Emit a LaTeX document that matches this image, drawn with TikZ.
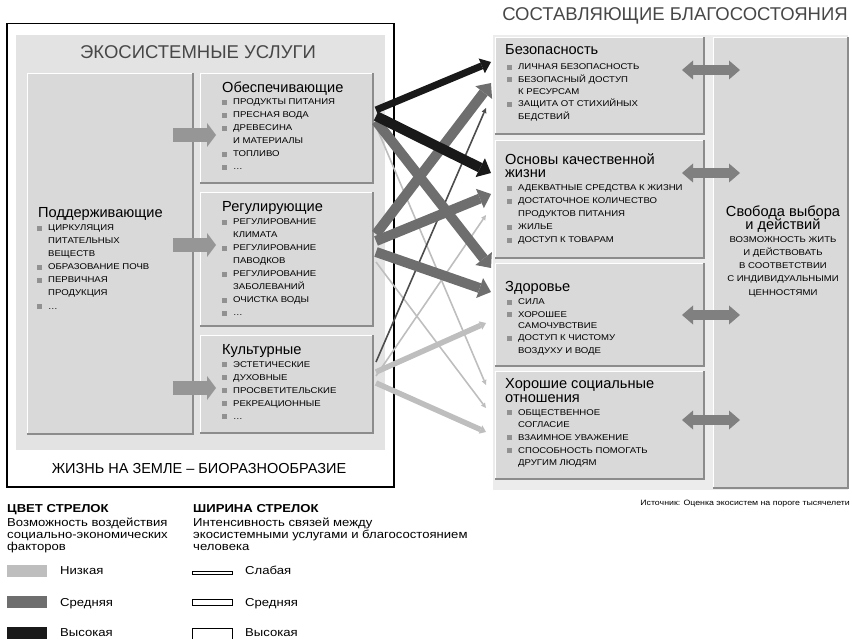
\documentclass[tikz,border=0pt]{standalone}
\usepackage{fontspec}
\setmainfont{Liberation Sans}
\newfontfamily\widesans[FakeStretch=1.14]{Liberation Sans}
\usetikzlibrary{arrows.meta}

\definecolor{panelgray}{RGB}{227,227,227}
\definecolor{rpanel}{RGB}{236,236,236}
\definecolor{boxgray}{RGB}{217,217,217}
\definecolor{edgegray}{RGB}{140,140,140}
\definecolor{bulgray}{RGB}{145,145,145}
\definecolor{arrgray}{RGB}{150,150,150}
\definecolor{dblgray}{RGB}{128,128,128}
\definecolor{lowcol}{RGB}{190,190,190}
\definecolor{midcol}{RGB}{110,110,110}
\definecolor{highcol}{RGB}{25,25,25}

\newcommand\bul{\textcolor{bulgray}{\rule{5pt}{5pt}}\hspace{6pt}}
\newcommand\cnt{\hspace{11pt}}
% one node per printed line
\newcommand\blist[5]{\foreach \lin [count=\k from 0] in {#5}
  \node[itm] (#1-\k) at (#2,#3+#4*\k) {\lin};}

\begin{document}
\begin{tikzpicture}[x=1pt, y=-1pt,
  box/.style={fill=boxgray, draw=white, line width=1pt, anchor=north west, inner sep=0},
  edge/.style={draw=edgegray, line width=1.6pt},
  hd/.style={anchor=base west, inner sep=0, font=\fontsize{14.6}{15}\selectfont},
  itm/.style={anchor=base west, inner sep=0, text=black, font=\widesans\fontsize{8.4}{9}\selectfont},
  big/.style={anchor=base, inner sep=0, text=black!72, font=\fontsize{18.5}{19}\selectfont},
  lgd/.style={anchor=base west, inner sep=0, font=\widesans\fontsize{11.5}{12}\selectfont},
  blk/.style={draw=arrgray, line width=14pt, -{Triangle[length=9pt,width=24pt,line width=0pt]}},
  dbl/.style={draw=dblgray, line width=10pt, {Triangle[length=11pt,width=19pt,line width=0pt]}-{Triangle[length=11pt,width=19pt,line width=0pt]}},
  wide/.style={line width=10pt, -{Triangle[length=12pt,width=21pt,line width=0pt]}},
  medw/.style={line width=7pt, -{Triangle[length=10pt,width=16pt,line width=0pt]}},
  lightw/.style={line width=5.5pt, -{Triangle[length=6pt,width=9pt,line width=0pt]}},
  slim/.style={line width=1.6pt, -{Triangle[length=5pt,width=5pt,line width=0pt]}}]
\useasboundingbox (0,0) rectangle (852,639);

% ecosystem services
\node[draw, line width=1.5pt, minimum width=387pt, minimum height=463pt, anchor=north west, inner sep=0] (frame) at (6,23) {};
\node[fill=panelgray, minimum width=369pt, minimum height=415pt, anchor=north west, inner sep=0] (panel) at (16,35) {};
\node[big] (es) at (198,59) {ЭКОСИСТЕМНЫЕ УСЛУГИ};

\node[box, minimum width=165pt, minimum height=360pt] (sup) at (27,73) {};
\node[box, minimum width=172pt, minimum height=109pt] (prov) at (200,73) {};
\node[box, minimum width=172pt, minimum height=133pt] (reg) at (200,192) {};
\node[box, minimum width=172pt, minimum height=97pt] (cult) at (200,335) {};
\foreach \b in {sup,prov,reg,cult}
  \draw[edge] (\b.north east) -- (\b.south east) -- (\b.south west);

\foreach \t/\y in {prov/135, reg/245, cult/388} {
  \coordinate (\t-from) at (173,\y);
  \coordinate (\t-to) at (216,\y);
  \draw[blk] (\t-from) -- (\t-to);
}

\node[hd] (sup-t) at (38,218) {Поддерживающие};
\blist{sup}{37}{231}{13}{{\bul ЦИРКУЛЯЦИЯ},{\cnt ПИТАТЕЛЬНЫХ},{\cnt ВЕЩЕСТВ},{\bul ОБРАЗОВАНИЕ ПОЧВ},{\bul ПЕРВИЧНАЯ},{\cnt ПРОДУКЦИЯ},{\bul \ldots}}
\node[hd] (prov-t) at (222,93) {Обеспечивающие};
\blist{prov}{222}{105}{13}{{\bul ПРОДУКТЫ ПИТАНИЯ},{\bul ПРЕСНАЯ ВОДА},{\bul ДРЕВЕСИНА},{\cnt И МАТЕРИАЛЫ},{\bul ТОПЛИВО},{\bul \ldots}}
\node[hd] (reg-t) at (222,212) {Регулирующие};
\blist{reg}{222}{225}{13}{{\bul РЕГУЛИРОВАНИЕ},{\cnt КЛИМАТА},{\bul РЕГУЛИРОВАНИЕ},{\cnt ПАВОДКОВ},{\bul РЕГУЛИРОВАНИЕ},{\cnt ЗАБОЛЕВАНИЙ},{\bul ОЧИСТКА ВОДЫ},{\bul \ldots}}
\node[hd] (cult-t) at (222,355) {Культурные};
\blist{cult}{222}{367}{13}{{\bul ЭСТЕТИЧЕСКИЕ},{\bul ДУХОВНЫЕ},{\bul ПРОСВЕТИТЕЛЬСКИЕ},{\bul РЕКРЕАЦИОННЫЕ},{\bul \ldots}}

\node[anchor=base, inner sep=0, font=\fontsize{14.5}{15}\selectfont] (life) at (199,473) {ЖИЗНЬ НА ЗЕМЛЕ – БИОРАЗНООБРАЗИЕ};

% well-being
\node[big] (wb) at (675,21) {СОСТАВЛЯЮЩИЕ БЛАГОСОСТОЯНИЯ};
\node[fill=rpanel, minimum width=355pt, minimum height=455pt, anchor=north west, inner sep=0] (rpanel) at (493,35) {};
\node[box, minimum width=208pt, minimum height=96pt] (sec) at (495,37) {};
\node[box, minimum width=208pt, minimum height=117pt] (basic) at (495,140) {};
\node[box, minimum width=208pt, minimum height=102pt] (hlth) at (495,263) {};
\node[box, minimum width=208pt, minimum height=107pt] (soc) at (495,371) {};
\node[box, minimum width=134pt, minimum height=450pt] (free) at (713,37) {};
\foreach \b in {sec,basic,hlth,soc,free}
  \draw[edge] (\b.north east) -- (\b.south east) -- (\b.south west);

\foreach \t/\y in {sec/70, basic/173, hlth/315, soc/420} {
  \coordinate (\t-l) at (682,\y);
  \coordinate (\t-r) at (740,\y);
  \draw[dbl] (\t-l) -- (\t-r);
}

\node[hd] (sec-t) at (505,55) {Безопасность};
\blist{sec}{507}{70}{12.3}{{\bul ЛИЧНАЯ БЕЗОПАСНОСТЬ},{\bul БЕЗОПАСНЫЙ ДОСТУП},{\cnt К РЕСУРСАМ},{\bul ЗАЩИТА ОТ СТИХИЙНЫХ},{\cnt БЕДСТВИЙ}}
\node[hd] (basic-t) at (505,165) {Основы качественной};
\node[hd] (basic-t2) at (505,178) {жизни};
\blist{basic}{507}{191}{13}{{\bul АДЕКВАТНЫЕ СРЕДСТВА К ЖИЗНИ},{\bul ДОСТАТОЧНОЕ КОЛИЧЕСТВО},{\cnt ПРОДУКТОВ ПИТАНИЯ},{\bul ЖИЛЬЕ},{\bul ДОСТУП К ТОВАРАМ}}
\node[hd] (hlth-t) at (505,292) {Здоровье};
\blist{hlth}{507}{305}{12}{{\bul СИЛА},{\bul ХОРОШЕЕ},{\cnt САМОЧУВСТВИЕ},{\bul ДОСТУП К ЧИСТОМУ},{\cnt ВОЗДУХУ И ВОДЕ}}
\node[hd] (soc-t) at (505,388) {Хорошие социальные};
\node[hd] (soc-t2) at (505,402) {отношения};
\blist{soc}{507}{415}{12.7}{{\bul ОБЩЕСТВЕННОЕ},{\cnt СОГЛАСИЕ},{\bul ВЗАИМНОЕ УВАЖЕНИЕ},{\bul СПОСОБНОСТЬ ПОМОГАТЬ},{\cnt ДРУГИМ ЛЮДЯМ}}

\node[hd, anchor=base] (free-t) at (783,217) {Свобода выбора};
\node[hd, anchor=base] (free-t2) at (783,230) {и действий};
\foreach \lin [count=\k from 0] in {ВОЗМОЖНОСТЬ ЖИТЬ, И ДЕЙСТВОВАТЬ, В СООТВЕТСТВИИ, С ИНДИВИДУАЛЬНЫМИ, ЦЕННОСТЯМИ}
  \node[itm, anchor=base] (free-\k) at (783,243+13*\k) {\lin};

% links between services and well-being
\coordinate (prov-a) at (376,110); \coordinate (prov-b) at (376,116);
\coordinate (prov-c) at (376,121); \coordinate (prov-d) at (376,126);
\coordinate (reg-a) at (376,234);  \coordinate (reg-b) at (376,241);
\coordinate (reg-c) at (376,252);  \coordinate (reg-d) at (376,262);
\coordinate (cult-a) at (376,362); \coordinate (cult-b) at (376,372);
\coordinate (cult-c) at (376,376); \coordinate (cult-d) at (376,383);
\coordinate (sec-a) at (491,62);   \coordinate (sec-b) at (491,83);   \coordinate (sec-c) at (486,108);
\coordinate (basic-a) at (491,173); \coordinate (basic-b) at (491,194); \coordinate (basic-c) at (486,215);
\coordinate (hlth-a) at (491,268); \coordinate (hlth-b) at (491,292); \coordinate (hlth-c) at (486,323);
\coordinate (soc-a) at (486,385);  \coordinate (soc-b) at (486,408);  \coordinate (soc-c) at (486,432);

\draw[slim, lowcol] (prov-d) -- (soc-a);
\draw[slim, lowcol] (reg-d) -- (soc-b);
\draw[slim, lowcol] (cult-c) -- (basic-c);
\draw[lightw, lowcol] (cult-b) -- (hlth-c);
\draw[lightw, lowcol] (cult-d) -- (soc-c);
\draw[slim, black!70] (cult-a) -- (sec-c);
\draw[wide, midcol] (reg-a) -- (sec-b);
\draw[wide, midcol] (reg-b) -- (basic-b);
\draw[wide, midcol] (reg-c) -- (hlth-b);
\draw[wide, midcol] (prov-c) -- (hlth-a);
\draw[medw, highcol] (prov-a) -- (sec-a);
\draw[wide, highcol] (prov-b) -- (basic-a);

% legend
\node[lgd, font=\widesans\bfseries\fontsize{11.5}{12}\selectfont] (col-h) at (7,512) {ЦВЕТ СТРЕЛОК};
\foreach \lin [count=\k from 0] in {Возможность воздействия, социально-экономических, факторов}
  \node[lgd] (col-\k) at (7,526+12*\k) {\lin};
\node[lgd, font=\widesans\bfseries\fontsize{11.5}{12}\selectfont] (wd-h) at (193,512) {ШИРИНА СТРЕЛОК};
\foreach \lin [count=\k from 0] in {Интенсивность связей между, экосистемными услугами и благосостоянием, человека}
  \node[lgd] (wd-\k) at (193,526+12*\k) {\lin};

\node[fill=lowcol, minimum width=40pt, minimum height=12pt, inner sep=0, anchor=west] (sw-low) at (7,571) {};
\node[fill=midcol, minimum width=40pt, minimum height=12pt, inner sep=0, anchor=west] (sw-mid) at (7,602) {};
\node[fill=highcol, minimum width=40pt, minimum height=12pt, inner sep=0, anchor=west] (sw-high) at (7,633) {};
\node[lgd] (sw-low-t) at (60,574) {Низкая};
\node[lgd] (sw-mid-t) at (60,606) {Средняя};
\node[lgd] (sw-high-t) at (60,636) {Высокая};

\node[draw, line width=0.8pt, minimum width=40pt, minimum height=3pt, inner sep=0, anchor=west] (wd-low) at (192,573) {};
\node[draw, line width=0.8pt, minimum width=40pt, minimum height=6pt, inner sep=0, anchor=west] (wd-mid) at (192,602) {};
\draw[line width=0.8pt] (192,641) -- (192,628) -- (232,628) -- (232,641);
\node[lgd] (wd-low-t) at (245,574) {Слабая};
\node[lgd] (wd-mid-t) at (245,606) {Средняя};
\node[lgd] (wd-high-t) at (245,636) {Высокая};

\node[anchor=base east, inner sep=0, font=\widesans\fontsize{7.7}{8}\selectfont] (src) at (850,505) {Источник: Оценка экосистем на пороге тысячелети};
\end{tikzpicture}
\end{document}
